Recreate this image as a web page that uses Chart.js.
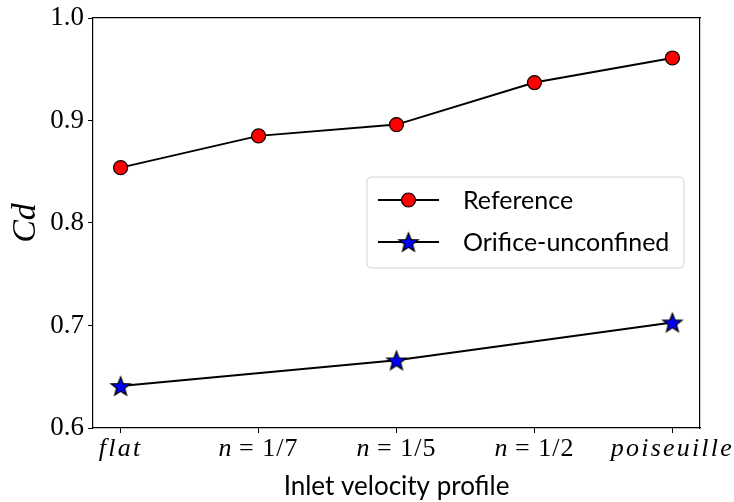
<!DOCTYPE html>
<html><head><meta charset="utf-8">
<script src="https://cdn.jsdelivr.net/npm/chart.js@4"></script>
<style>html,body{margin:0;padding:0;background:#fff}#wrap{width:734px;height:502px}</style>
</head><body><div id="wrap"><canvas id="c" width="734" height="502"></canvas></div>
<script>
const categories = ['flat', 'n = 1/7', 'n = 1/5', 'n = 1/2', 'poiseuille'];
const referenceCd = [0.854, 0.885, 0.896, 0.937, 0.961];
const orificeCd = [0.641, null, 0.666, null, 0.703];
const yTicks = [0.6, 0.7, 0.8, 0.9, 1.0];
const seriesNames = ['Reference', 'Orifice-unconfined'];

function makeStar(rOut, rIn) {
  const s = Math.ceil(rOut * 2 + 4);
  const cv = document.createElement('canvas');
  cv.width = s; cv.height = s;
  const g = cv.getContext('2d');
  g.beginPath();
  for (let i = 0; i < 10; i++) {
    const r = i % 2 === 0 ? rOut : rIn;
    const a = -Math.PI / 2 + i * Math.PI / 5;
    const x = s / 2 + r * Math.cos(a), y = s / 2 + r * Math.sin(a) + 1;
    i ? g.lineTo(x, y) : g.moveTo(x, y);
  }
  g.closePath();
  g.fillStyle = '#0000ff'; g.fill();
  g.lineWidth = 1.3; g.strokeStyle = '#000'; g.lineJoin = 'miter'; g.stroke();
  return cv;
}
const starImg = makeStar(10, 4.2);

const toXY = arr => arr.map((v, i) => v === null ? null : {x: i, y: v}).filter(p => p);

const labelPlugin = {
  id: 'customText',
  afterDraw(chart) {
    const ctx = chart.ctx;
    const xs = chart.scales.x, ys = chart.scales.y;
    ctx.save();
    ctx.fillStyle = '#000';
    ctx.textBaseline = 'alphabetic';
    const base = ys.bottom + 28;
    categories.forEach((lab, i) => {
      const px = xs.getPixelForValue(i);
      let parts;
      if (lab.startsWith('n')) {
        parts = [['italic 26px "Liberation Serif"', 'n', '0px'], ['26px "Liberation Serif"', ' = ' + lab.slice(4), '1px']];
      } else {
        parts = [['italic 26px "Liberation Serif"', lab, '2.2px']];
      }
      let w = 0;
      parts.forEach(p => { ctx.font = p[0]; ctx.letterSpacing = p[2]; w += ctx.measureText(p[1]).width; });
      let x = px - w / 2;
      ctx.textAlign = 'left';
      parts.forEach(p => { ctx.font = p[0]; ctx.letterSpacing = p[2]; ctx.fillText(p[1], x, base); x += ctx.measureText(p[1]).width; });
    });
    ctx.letterSpacing = '0px';
    // legend
    const lx = 367, ly = 177, lw = 317, lh = 91, rr = 5;
    ctx.beginPath();
    ctx.moveTo(lx + rr, ly); ctx.lineTo(lx + lw - rr, ly); ctx.quadraticCurveTo(lx + lw, ly, lx + lw, ly + rr);
    ctx.lineTo(lx + lw, ly + lh - rr); ctx.quadraticCurveTo(lx + lw, ly + lh, lx + lw - rr, ly + lh);
    ctx.lineTo(lx + rr, ly + lh); ctx.quadraticCurveTo(lx, ly + lh, lx, ly + lh - rr);
    ctx.lineTo(lx, ly + rr); ctx.quadraticCurveTo(lx, ly, lx + rr, ly);
    ctx.closePath();
    ctx.fillStyle = 'rgba(255,255,255,0.8)'; ctx.fill();
    ctx.strokeStyle = '#d0d0d0'; ctx.lineWidth = 1; ctx.stroke();
    const rows = [200, 242];
    rows.forEach((ry, k) => {
      ctx.beginPath(); ctx.moveTo(378, ry); ctx.lineTo(439, ry);
      ctx.strokeStyle = '#000'; ctx.lineWidth = 2; ctx.stroke();
      if (k === 0) {
        ctx.beginPath(); ctx.arc(408.5, ry, 7, 0, Math.PI * 2);
        ctx.fillStyle = '#ff0000'; ctx.fill(); ctx.lineWidth = 1.2; ctx.stroke();
      } else {
        ctx.drawImage(starImg, 408.5 - starImg.width / 2, ry - starImg.height / 2);
      }
      ctx.fillStyle = '#000'; ctx.font = '25px Lato'; ctx.textAlign = 'left'; ctx.textBaseline = 'middle';
      ctx.fillText(seriesNames[k], 463, ry + 1);
    });
    ctx.restore();
  }
};

new Chart(document.getElementById('c'), {
  type: 'line',
  data: {
    datasets: [
      {label: seriesNames[0], data: toXY(referenceCd), borderColor: '#000', borderWidth: 2,
       pointStyle: 'circle', pointRadius: 7, pointHoverRadius: 7, pointBackgroundColor: '#ff0000',
       pointBorderColor: '#000', pointBorderWidth: 1.2, tension: 0},
      {label: seriesNames[1], data: toXY(orificeCd), borderColor: '#000', borderWidth: 2,
       pointStyle: starImg, pointRadius: 10, pointBackgroundColor: '#0000ff',
       pointBorderColor: '#000', tension: 0}
    ]
  },
  options: {
    responsive: false, animation: false, devicePixelRatio: 1,
    layout: {padding: {top: 18, right: 34, left: 0, bottom: 0}},
    plugins: {legend: {display: false}, tooltip: {enabled: false}},
    scales: {
      x: {
        type: 'linear', min: -0.2, max: 4.2,
        afterBuildTicks: s => { s.ticks = categories.map((c, i) => ({value: i})); },
        ticks: {color: 'rgba(0,0,0,0)', font: {size: 20}, callback: (v) => categories[v] || ''},
        grid: {display: true, drawOnChartArea: false, drawTicks: true, tickLength: 5, color: '#000', tickColor: '#000'},
        border: {color: '#000', width: 1.2},
        title: {display: true, text: 'Inlet velocity profile', font: {family: 'Lato', size: 26}, color: '#000', padding: {top: 0, bottom: 0}},
        afterFit: s => { s.height = 74; s.paddingLeft = 0; s.paddingRight = 0; }
      },
      y: {
        min: 0.6, max: 1.0,
        afterBuildTicks: s => { s.ticks = yTicks.map(v => ({value: v})); },
        ticks: {color: '#000', font: {family: 'Liberation Serif', size: 27}, padding: 4, callback: v => v.toFixed(1)},
        grid: {display: true, drawOnChartArea: false, drawTicks: true, tickLength: 5, color: '#000', tickColor: '#000'},
        border: {color: '#000', width: 1.2},
        title: {display: true, text: 'Cd', font: {family: 'Liberation Serif', size: 34, style: 'italic'}, color: '#000', padding: {top: 6, bottom: 2}},
        afterFit: s => { s.width = 93; s.paddingTop = 0; s.paddingBottom = 0; }
      },
      x2: {type: 'linear', position: 'top', min: 0, max: 1, ticks: {display: false}, grid: {display: false, drawTicks: false}, border: {color: '#000', width: 1.2}, afterFit: s => { s.height = 0; }},
      y2: {type: 'linear', position: 'right', min: 0, max: 1, ticks: {display: false}, grid: {display: false, drawTicks: false}, border: {color: '#000', width: 1.2}, afterFit: s => { s.width = 0; }}
    }
  },
  plugins: [labelPlugin]
});
</script></body></html>
